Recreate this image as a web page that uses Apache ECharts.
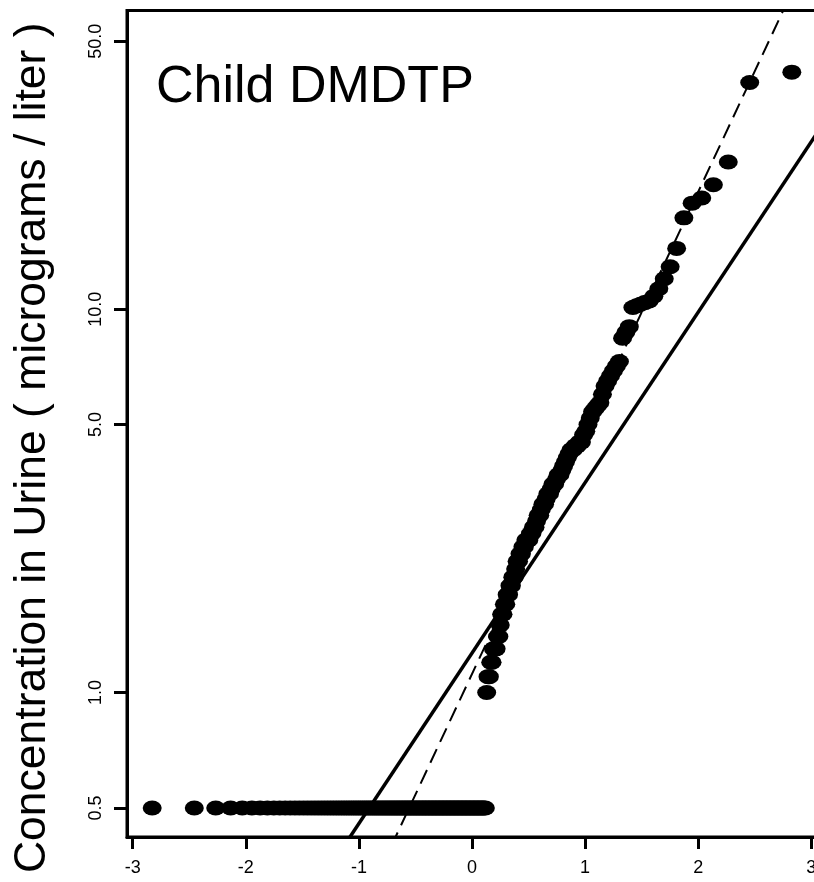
<!DOCTYPE html>
<html lang="en">
<head>
    <meta charset="UTF-8">
    <title>Child DMDTP</title>
    <script type="text/javascript" src="https://cdn.jsdelivr.net/npm/echarts@6/dist/echarts.min.js"></script>
    <style>
        html, body { margin: 0; padding: 0; background: #fff; }
    </style>
</head>
<body>
<div id="main" style="width: 814px;height:882px;"></div>
<script type="text/javascript">
    // samples below the detection limit, plotted at half the limit
    var nonDetectCount = 117;
    var nonDetectValue = 0.5;

    // detected concentrations, sorted ascending (micrograms / liter)
    var detected = [
        1.0, 1.1, 1.1, 1.2, 1.2, 1.3, 1.3, 1.3, 1.4, 1.4,
        1.5, 1.6, 1.6, 1.7, 1.7, 1.8, 1.8, 1.9, 1.9, 2.0,
        2.0, 2.1, 2.2, 2.2, 2.3, 2.3, 2.4, 2.4, 2.5, 2.5,
        2.5, 2.6, 2.6, 2.7, 2.7, 2.8, 2.9, 2.9, 3.0, 3.1,
        3.1, 3.2, 3.3, 3.3, 3.4, 3.5, 3.5, 3.6, 3.7, 3.7,
        3.8, 3.9, 4.0, 4.1, 4.2, 4.3, 4.3, 4.4, 4.4, 4.5,
        4.5, 4.7, 4.8, 5.0, 5.2, 5.4, 5.5, 5.6, 5.7, 6.0,
        6.3, 6.5, 6.7, 6.9, 7.1, 7.3, 8.4, 8.7, 9.0, 10.1,
        10.2, 10.3, 10.4, 10.5, 10.8, 11.3, 12.0, 12.9, 14.4, 17.3,
        18.9, 19.5, 21.1, 24.2, 39.0, 41.5
    ];

    // reference lines [theoretical quantile, concentration]
    var solidLine = [[-1.2, 0.371], [3.1, 30.3]];
    var dashedLine = [[-0.8, 0.351], [2.85, 69.3]];

    var xTicks = [-3, -2, -1, 0, 1, 2, 3];
    var yTicks = [0.5, 1, 5, 10, 50];

    // normal quantile function (Acklam)
    function qnorm(p) {
        var a = [-3.969683028665376e+01, 2.209460984245205e+02, -2.759285104469687e+02,
                 1.383577518672690e+02, -3.066479806614716e+01, 2.506628277459239e+00];
        var b = [-5.447609879822406e+01, 1.615858368580409e+02, -1.556989798598866e+02,
                 6.680131188771972e+01, -1.328068155288572e+01];
        var c = [-7.784894002430293e-03, -3.223964580411365e-01, -2.400758277161838e+00,
                 -2.549732539343734e+00, 4.374664141464968e+00, 2.938163982698783e+00];
        var d = [7.784695709041462e-03, 3.224671290700398e-01, 2.445134137142996e+00,
                 3.754408661907416e+00];
        var plow = 0.02425, q, r;
        if (p < plow) {
            q = Math.sqrt(-2 * Math.log(p));
            return (((((c[0]*q+c[1])*q+c[2])*q+c[3])*q+c[4])*q+c[5]) /
                   ((((d[0]*q+d[1])*q+d[2])*q+d[3])*q+1);
        }
        if (p <= 1 - plow) {
            q = p - 0.5; r = q * q;
            return (((((a[0]*r+a[1])*r+a[2])*r+a[3])*r+a[4])*r+a[5])*q /
                   (((((b[0]*r+b[1])*r+b[2])*r+b[3])*r+b[4])*r+1);
        }
        q = Math.sqrt(-2 * Math.log(1 - p));
        return -(((((c[0]*q+c[1])*q+c[2])*q+c[3])*q+c[4])*q+c[5]) /
                ((((d[0]*q+d[1])*q+d[2])*q+d[3])*q+1);
    }

    var values = [];
    for (var k = 0; k < nonDetectCount; k++) values.push(nonDetectValue);
    values = values.concat(detected);
    var n = values.length;
    var points = values.map(function (v, i) {
        return [qnorm((i + 1 - 0.5) / n), v];
    });

    var font = "'Liberation Sans', Arial, Helvetica, sans-serif";

    var option = {
        animation: false,
        title: {
            text: 'Child DMDTP',
            left: 151,
            top: 57,
            textStyle: {fontFamily: font, fontSize: 52, fontWeight: 'normal', color: '#000'}
        },
        grid: {
            left: 127,
            top: 10.5,
            width: 690,
            bottom: 45,
            outerBoundsMode: 'none',
            containLabel: false,
            show: true,
            borderColor: '#000',
            borderWidth: 3
        },
        xAxis: {
            type: 'value',
            min: -3.05,
            max: 3.05,
            axisLine: {show: true, onZero: false, lineStyle: {color: '#000', width: 3}},
            axisTick: {show: true, customValues: xTicks, length: 12, lineStyle: {color: '#000', width: 3}},
            axisLabel: {
                customValues: xTicks,
                margin: 22,
                fontFamily: font,
                fontSize: 18,
                color: '#000'
            },
            splitLine: {show: false}
        },
        yAxis: {
            type: 'log',
            logBase: 10,
            min: 0.42,
            max: 60.1,
            name: 'Concentration in Urine ( micrograms / liter )',
            nameLocation: 'middle',
            nameGap: 72,
            nameTextStyle: {fontFamily: font, fontSize: 44.5, color: '#000', padding: [0, 48, 0, 0]},
            axisLine: {show: true, onZero: false, lineStyle: {color: '#000', width: 3}},
            axisTick: {show: true, customValues: yTicks, length: 13, lineStyle: {color: '#000', width: 3}},
            axisLabel: {
                customValues: yTicks,
                rotate: 90,
                margin: 22,
                fontFamily: font,
                fontSize: 18,
                color: '#000',
                formatter: function (v) { return Number(v).toFixed(1); }
            },
            splitLine: {show: false},
            minorTick: {show: false}
        },
        series: [
            {
                type: 'line',
                data: solidLine,
                symbol: 'none',
                clip: true,
                lineStyle: {color: '#000', width: 3.5}
            },
            {
                type: 'line',
                data: dashedLine,
                symbol: 'none',
                clip: true,
                lineStyle: {color: '#000', width: 2, type: [15, 8]}
            },
            {
                type: 'scatter',
                data: points,
                symbol: 'circle',
                symbolSize: [19, 15],
                clip: false,
                itemStyle: {color: '#000', opacity: 1}
            }
        ]
    };

    var myChart = echarts.init(document.getElementById('main'));
    myChart.setOption(option);
</script>
</body>
</html>
